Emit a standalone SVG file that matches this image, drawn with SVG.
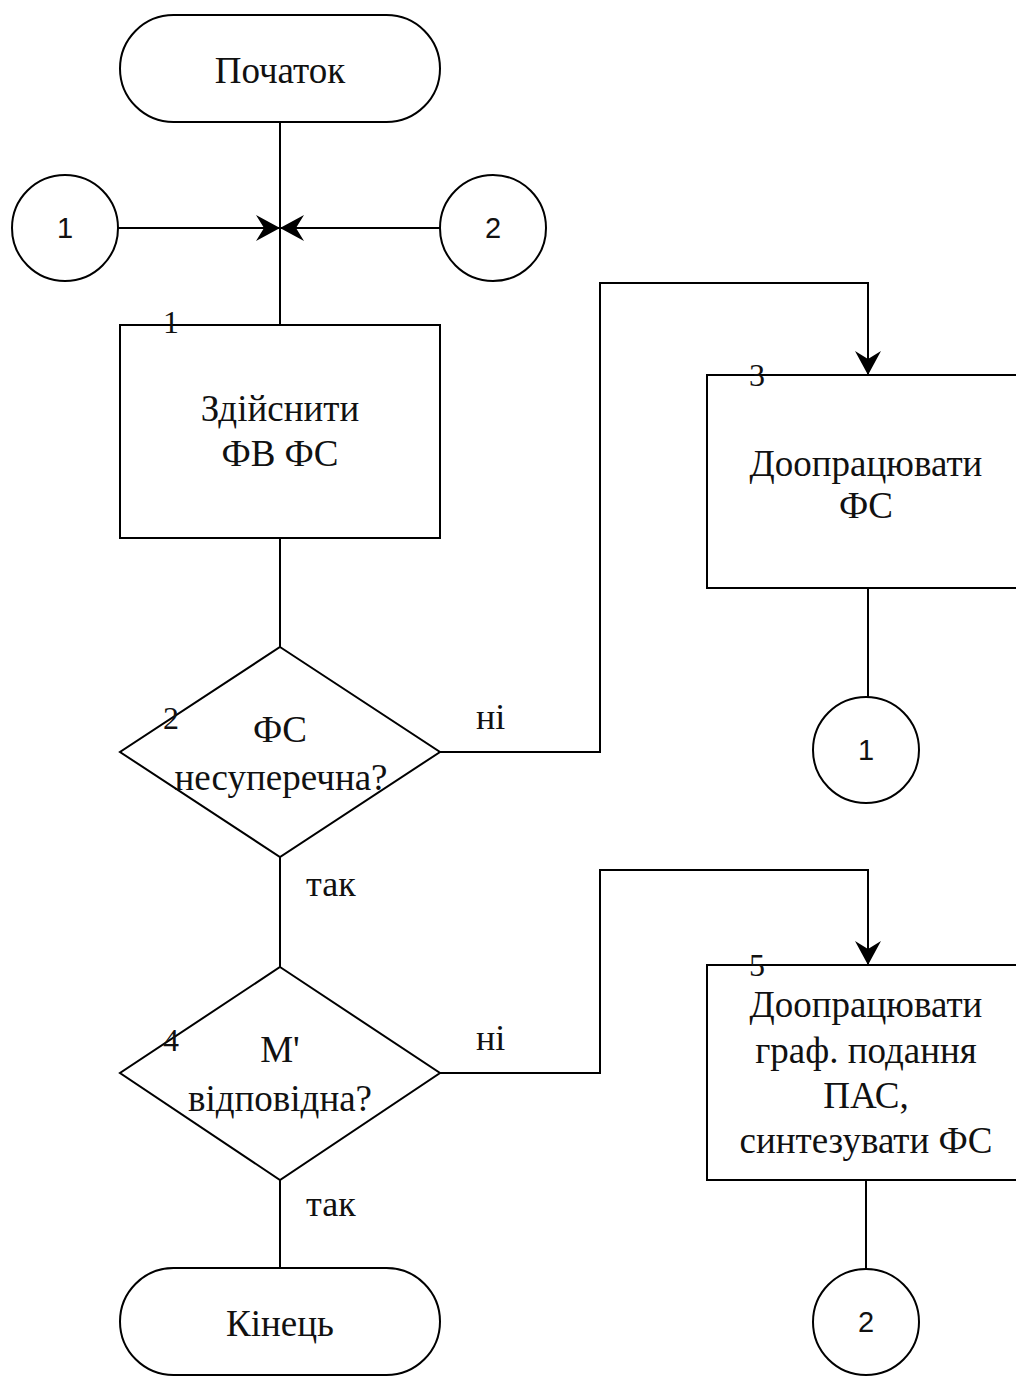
<svg xmlns="http://www.w3.org/2000/svg" width="1016" height="1376" viewBox="0 0 1016 1376">
<style>
.s{fill:#fff;stroke:#000;stroke-width:2}
.c{fill:none;stroke:#000;stroke-width:2}
.t{font-family:"Liberation Serif","Times New Roman",serif;font-size:37px;fill:#111;text-anchor:middle}
.n{font-family:"Liberation Serif","Times New Roman",serif;font-size:32px;fill:#111;text-anchor:middle}
.l{font-family:"Liberation Serif","Times New Roman",serif;font-size:36px;fill:#111}
.k{font-family:"Liberation Sans",Arial,sans-serif;font-size:29px;fill:#111;text-anchor:middle}
</style>
<defs>
<marker id="a" viewBox="0 0 24 26" refX="24" refY="13" markerWidth="24" markerHeight="26" markerUnits="userSpaceOnUse" orient="auto">
<path d="M0,0 L24,13 L0,26 L8,13 Z" fill="#000"/>
</marker>
</defs>
<rect width="1016" height="1376" fill="#fff"/>
<g id="connectors">
<path class="c" d="M280,122 V325"/>
<path class="c" d="M118,228 H280" marker-end="url(#a)"/>
<path class="c" d="M440,228 H280" marker-end="url(#a)"/>
<path class="c" d="M280,538 V647"/>
<path class="c" d="M440,752 H600 V283 H868 V375" marker-end="url(#a)"/>
<path class="c" d="M868,588 V697"/>
<path class="c" d="M280,857 V967"/>
<path class="c" d="M440,1073 H600 V870 H868 V965" marker-end="url(#a)"/>
<path class="c" d="M866,1180 V1269"/>
<path class="c" d="M280,1180 V1268"/>
<text class="l" x="476" y="729">ні</text>
<text class="l" x="306" y="896">так</text>
<text class="l" x="476" y="1050">ні</text>
<text class="l" x="306" y="1216">так</text>
</g>
<g id="start">
<rect class="s" x="120" y="15" width="320" height="107" rx="53.5"/>
<text class="t" x="280" y="83">Початок</text>
</g>
<g id="conn1-in">
<circle class="s" cx="65" cy="228" r="53"/>
<text class="k" x="65" y="238">1</text>
</g>
<g id="conn2-in">
<circle class="s" cx="493" cy="228" r="53"/>
<text class="k" x="493" y="238">2</text>
</g>
<g id="block1">
<rect class="s" x="120" y="325" width="320" height="213"/>
<text class="n" x="171" y="333">1</text>
<text class="t" x="280" y="421">Здійснити</text>
<text class="t" x="280" y="466">ФВ ФС</text>
</g>
<g id="block2">
<polygon class="s" points="280,647 440,752 280,857 120,752"/>
<text class="n" x="171" y="729">2</text>
<text class="t" x="280" y="742">ФС</text>
<text class="t" x="281" y="790">несуперечна?</text>
</g>
<g id="block3">
<rect class="s" x="707" y="375" width="322" height="213"/>
<text class="n" x="757" y="386">3</text>
<text class="t" x="866" y="476">Доопрацювати</text>
<text class="t" x="866" y="518">ФС</text>
</g>
<g id="conn1-out">
<circle class="s" cx="866" cy="750" r="53"/>
<text class="k" x="866" y="760">1</text>
</g>
<g id="block4">
<polygon class="s" points="280,967 440,1073 280,1180 120,1073"/>
<text class="n" x="171" y="1051">4</text>
<text class="t" x="280" y="1062">M'</text>
<text class="t" x="280" y="1111">відповідна?</text>
</g>
<g id="block5">
<rect class="s" x="707" y="965" width="322" height="215"/>
<text class="n" x="757" y="976">5</text>
<text class="t" x="866" y="1017">Доопрацювати</text>
<text class="t" x="866" y="1063">граф. подання</text>
<text class="t" x="866" y="1108">ПАС,</text>
<text class="t" x="866" y="1153">синтезувати ФС</text>
</g>
<g id="conn2-out">
<circle class="s" cx="866" cy="1322" r="53"/>
<text class="k" x="866" y="1332">2</text>
</g>
<g id="end">
<rect class="s" x="120" y="1268" width="320" height="107" rx="53.5"/>
<text class="t" x="280" y="1336">Кінець</text>
</g>
</svg>
